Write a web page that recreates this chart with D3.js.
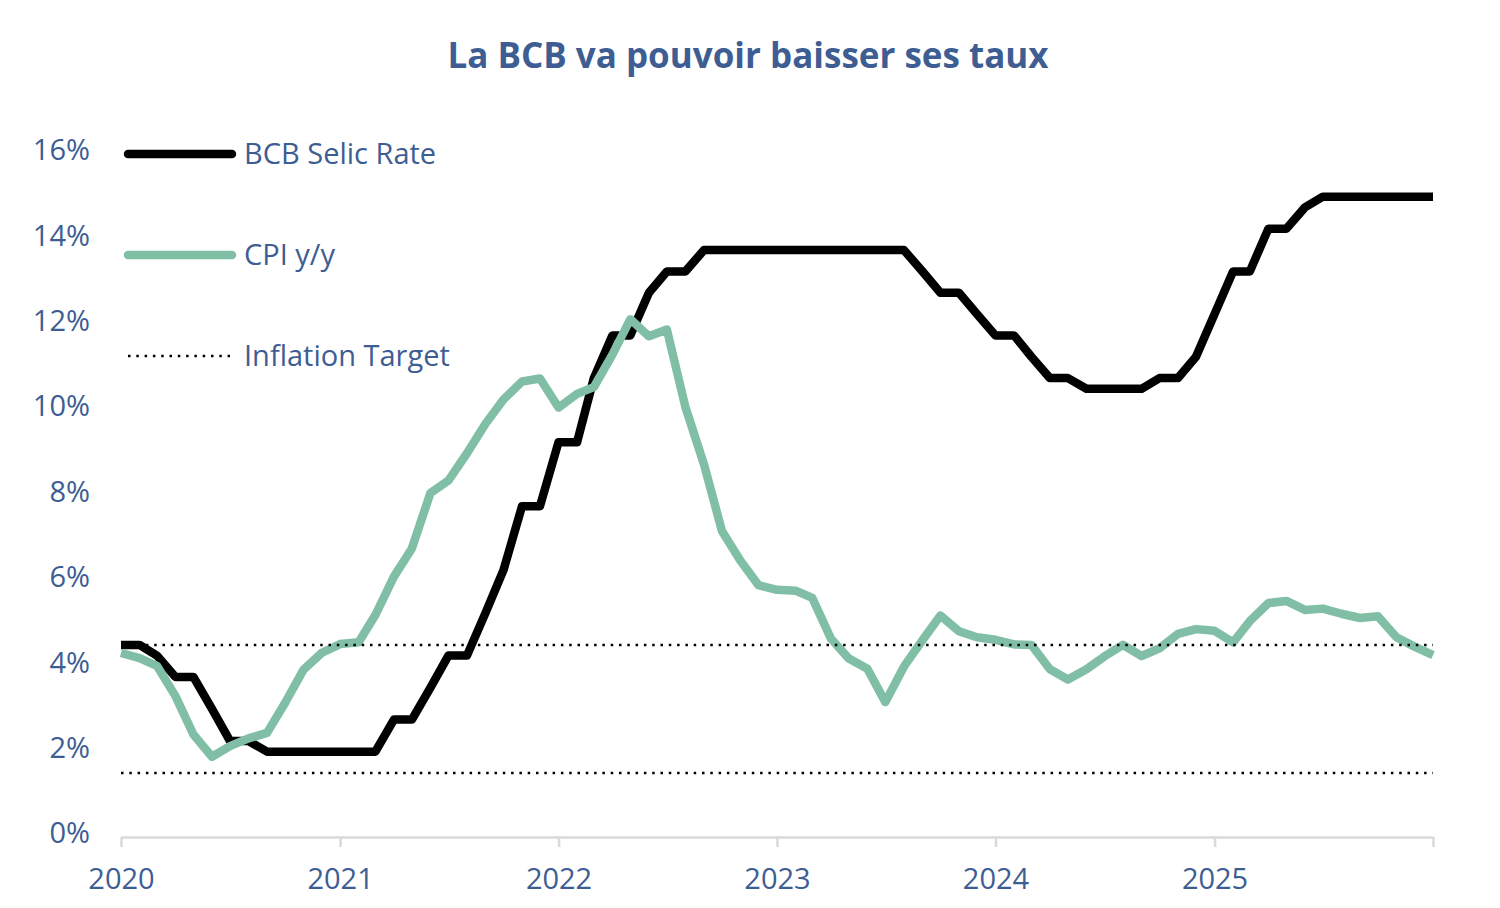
<!DOCTYPE html>
<html>
<head>
<meta charset="utf-8">
<script src="https://cdn.jsdelivr.net/npm/d3@7"></script>
<style>
  body { margin: 0; background: #fff; }
  svg { display: block; }
  text { font-family: "Open Sans", sans-serif; fill: #3e5d93; }
</style>
</head>
<body>
<div id="chart"></div>
<script>
// month-end observations, Dec 2019 .. Dec 2025
var months = [
  "2019-12",
  "2020-01","2020-02","2020-03","2020-04","2020-05","2020-06","2020-07","2020-08","2020-09","2020-10","2020-11","2020-12",
  "2021-01","2021-02","2021-03","2021-04","2021-05","2021-06","2021-07","2021-08","2021-09","2021-10","2021-11","2021-12",
  "2022-01","2022-02","2022-03","2022-04","2022-05","2022-06","2022-07","2022-08","2022-09","2022-10","2022-11","2022-12",
  "2023-01","2023-02","2023-03","2023-04","2023-05","2023-06","2023-07","2023-08","2023-09","2023-10","2023-11","2023-12",
  "2024-01","2024-02","2024-03","2024-04","2024-05","2024-06","2024-07","2024-08","2024-09","2024-10","2024-11","2024-12",
  "2025-01","2025-02","2025-03","2025-04","2025-05","2025-06","2025-07","2025-08","2025-09","2025-10","2025-11","2025-12"
];
var selic = [
  4.5,
  4.5, 4.25, 3.75, 3.75, 3.0, 2.25, 2.25, 2.0, 2.0, 2.0, 2.0, 2.0,
  2.0, 2.0, 2.75, 2.75, 3.5, 4.25, 4.25, 5.25, 6.25, 7.75, 7.75, 9.25,
  9.25, 10.75, 11.75, 11.75, 12.75, 13.25, 13.25, 13.75, 13.75, 13.75, 13.75, 13.75,
  13.75, 13.75, 13.75, 13.75, 13.75, 13.75, 13.75, 13.25, 12.75, 12.75, 12.25, 11.75,
  11.75, 11.25, 10.75, 10.75, 10.5, 10.5, 10.5, 10.5, 10.75, 10.75, 11.25, 12.25,
  13.25, 13.25, 14.25, 14.25, 14.75, 15, 15, 15, 15, 15, 15, 15
];
var cpi = [
  4.31,
  4.19, 4.01, 3.30, 2.40, 1.88, 2.13, 2.31, 2.44, 3.14, 3.92, 4.31, 4.52,
  4.56, 5.20, 6.10, 6.76, 8.06, 8.35, 8.99, 9.68, 10.25, 10.67, 10.74, 10.06,
  10.38, 10.54, 11.30, 12.13, 11.73, 11.89, 10.07, 8.73, 7.17, 6.47, 5.90, 5.79,
  5.77, 5.60, 4.65, 4.18, 3.94, 3.16, 3.99, 4.61, 5.19, 4.82, 4.68, 4.62,
  4.51, 4.50, 3.93, 3.69, 3.93, 4.23, 4.50, 4.24, 4.42, 4.76, 4.87, 4.83,
  4.56, 5.06, 5.48, 5.53, 5.32, 5.35, 5.23, 5.13, 5.17, 4.68, 4.46, 4.26
];
var targetBand = [4.5, 1.5];   // haut / bas de la cible
var yTicks = [0, 2, 4, 6, 8, 10, 12, 14, 16];
var yearTicks = ["2020", "2021", "2022", "2023", "2024", "2025", "2026"];
var yearLabels = ["2020", "2021", "2022", "2023", "2024", "2025", ""];
var seriesNames = ["BCB Selic Rate", "CPI y/y", "Inflation Target"];
var title = "La BCB va pouvoir baisser ses taux";

var width = 1500, height = 908;
var green = "#80bfa6";
var fontSize = "29px";

var svg = d3.select("#chart").append("svg")
    .attr("width", width)
    .attr("height", height);

var parseMonth = d3.timeParse("%Y-%m");
var parseYear = d3.timeParse("%Y");
// une observation de fin de mois = debut du mois suivant
var dates = months.map(function (m) { return d3.timeMonth.offset(parseMonth(m), 1); });
var yearDates = yearTicks.map(parseYear);

var x = d3.scaleTime()
    .domain([yearDates[0], yearDates[yearDates.length - 1]])
    .range([121, 1433]);
var y = d3.scaleLinear()
    .domain([0, 16])
    .range([837, 154]);

// titre
svg.append("text")
    .attr("x", 748)
    .attr("y", 68)
    .attr("text-anchor", "middle")
    .style("font-size", "35px")
    .style("font-weight", "bold")
    .text(title);

// axe X
var xAxis = svg.append("g")
    .attr("transform", "translate(0," + y(0) + ")")
    .call(d3.axisBottom(x)
        .tickValues(yearDates)
        .tickSize(10)
        .tickSizeOuter(0)
        .tickPadding(21)
        .tickFormat(function (d, i) { return yearLabels[i]; }));
xAxis.select(".domain").attr("stroke", "#d9d9d9").attr("stroke-width", 2.5);
xAxis.selectAll(".tick line").attr("stroke", "#d9d9d9").attr("stroke-width", 2.5);
xAxis.selectAll(".tick text")
    .attr("fill", "#3e5d93")
    .style("font-size", fontSize)
    .style("font-family", "'Open Sans', sans-serif");

// axe Y
var yAxis = svg.append("g")
    .attr("transform", "translate(121,0)")
    .call(d3.axisLeft(y)
        .tickValues(yTicks)
        .tickSize(0)
        .tickPadding(31)
        .tickFormat(function (d) { return d + "%"; }));
yAxis.select(".domain").remove();
yAxis.selectAll(".tick text")
    .attr("fill", "#3e5d93")
    .attr("dy", "0.2em")
    .style("font-size", fontSize)
    .style("font-family", "'Open Sans', sans-serif");

// series
var line = d3.line()
    .x(function (d) { return x(d[0]); })
    .y(function (d) { return y(d[1]); });

svg.append("path")
    .datum(dates.map(function (d, i) { return [d, selic[i]]; }))
    .attr("fill", "none")
    .attr("stroke", "#000")
    .attr("stroke-width", 8.5)
    .attr("stroke-linejoin", "round")
    .attr("d", line);

svg.append("path")
    .datum(dates.map(function (d, i) { return [d, cpi[i]]; }))
    .attr("fill", "none")
    .attr("stroke", green)
    .attr("stroke-width", 8.5)
    .attr("stroke-linejoin", "round")
    .attr("d", line);

svg.selectAll(".target")
    .data(targetBand)
    .enter().append("line")
    .attr("class", "target")
    .attr("x1", x(dates[0]))
    .attr("x2", x(dates[dates.length - 1]))
    .attr("y1", function (d) { return y(d); })
    .attr("y2", function (d) { return y(d); })
    .attr("stroke", "#000")
    .attr("stroke-width", 2.5)
    .attr("stroke-dasharray", "2.5 5.8");

// legende
var legend = svg.append("g");
var legendY = [154, 255, 356];
var legendStyle = [
    { stroke: "#000", width: 8.5, dash: null, cap: "round" },
    { stroke: green, width: 8.5, dash: null, cap: "round" },
    { stroke: "#000", width: 2.5, dash: "2.5 5.8", cap: "butt" }
];
seriesNames.forEach(function (name, i) {
    legend.append("line")
        .attr("x1", 128)
        .attr("x2", i < 2 ? 232 : 230)
        .attr("y1", legendY[i])
        .attr("y2", legendY[i])
        .attr("stroke", legendStyle[i].stroke)
        .attr("stroke-width", legendStyle[i].width)
        .attr("stroke-linecap", legendStyle[i].cap)
        .attr("stroke-dasharray", legendStyle[i].dash);
    legend.append("text")
        .attr("x", 244)
        .attr("y", legendY[i])
        .attr("dy", "0.33em")
        .style("font-size", fontSize)
        .text(name);
});
</script>
</body>
</html>
